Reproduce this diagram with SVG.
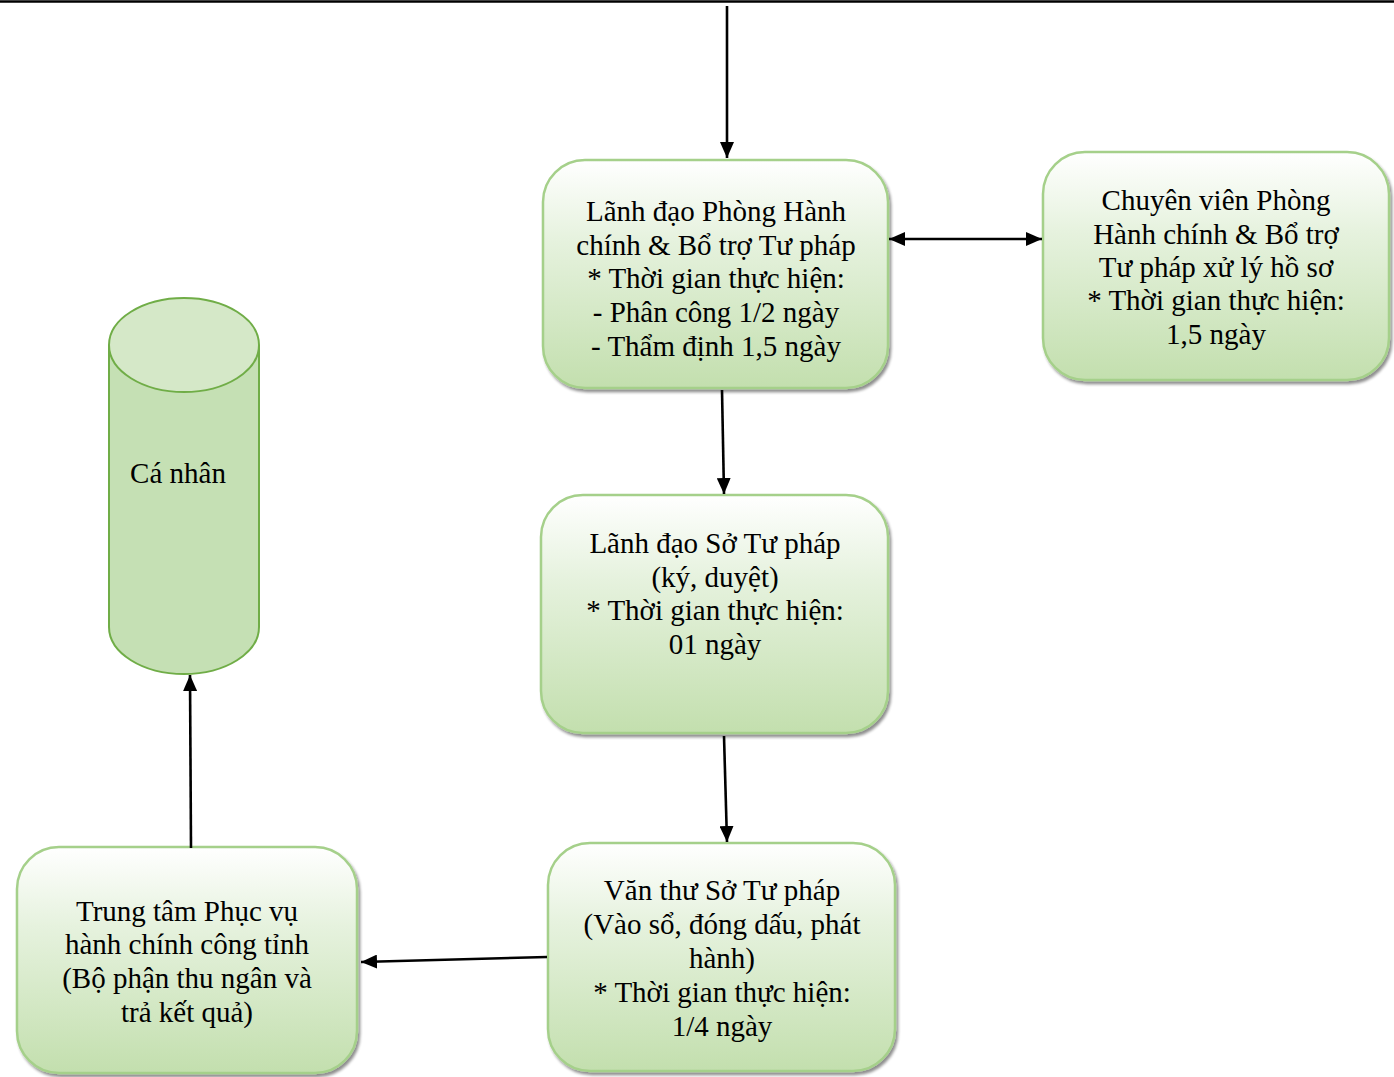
<svg xmlns="http://www.w3.org/2000/svg" width="1394" height="1077" viewBox="0 0 1394 1077">
<defs>
<linearGradient id="g" x1="0" y1="0" x2="0" y2="1">
<stop offset="0" stop-color="#ffffff"/>
<stop offset="0.35" stop-color="#e6f2de"/>
<stop offset="1" stop-color="#c3dfae"/>
</linearGradient>
<marker id="ah" viewBox="0 0 16 14" refX="16" refY="7" markerWidth="16" markerHeight="14" markerUnits="userSpaceOnUse" orient="auto-start-reverse">
<path d="M0,0 L16,7 L0,14 z" fill="#000"/>
</marker>
<filter id="sh" x="-10%" y="-10%" width="130%" height="130%">
<feGaussianBlur in="SourceAlpha" stdDeviation="1.5"/>
<feOffset dx="2" dy="3" result="b"/>
<feComponentTransfer><feFuncA type="linear" slope="0.45"/></feComponentTransfer>
<feMerge><feMergeNode/><feMergeNode in="SourceGraphic"/></feMerge>
</filter>
</defs>
<style>
.box{fill:url(#g);stroke:#a5d08a;stroke-width:2.5;filter:url(#sh)}
.t{font-family:'Liberation Serif','Times New Roman','DejaVu Serif',serif;font-size:29px;fill:#000;text-anchor:middle}
.c{stroke:#000;stroke-width:2.6;fill:none;marker-end:url(#ah)}
</style>
<rect width="1394" height="1077" fill="#fff"/>
<line x1="0" y1="1.5" x2="1394" y2="1.5" stroke="#000" stroke-width="2.5"/>

<g id="n1">
<rect class="box" x="543" y="160" width="345" height="228" rx="42"/>
<text class="t" x="716" y="221">Lãnh đạo Phòng Hành</text>
<text class="t" x="716" y="255">chính &amp; Bổ trợ Tư pháp</text>
<text class="t" x="716" y="288">* Thời gian thực hiện:</text>
<text class="t" x="716" y="322">- Phân công 1/2 ngày</text>
<text class="t" x="716" y="356">- Thẩm định 1,5 ngày</text>
</g>
<g id="n2">
<rect class="box" x="1043" y="152" width="346" height="228" rx="42"/>
<text class="t" x="1216" y="210">Chuyên viên Phòng</text>
<text class="t" x="1216" y="244">Hành chính &amp; Bổ trợ</text>
<text class="t" x="1216" y="277">Tư pháp xử lý hồ sơ</text>
<text class="t" x="1216" y="310">* Thời gian thực hiện:</text>
<text class="t" x="1216" y="344">1,5 ngày</text>
</g>
<g id="n3">
<rect class="box" x="541" y="495" width="347" height="238" rx="42"/>
<text class="t" x="715" y="553">Lãnh đạo Sở Tư pháp</text>
<text class="t" x="715" y="587">(ký, duyệt)</text>
<text class="t" x="715" y="620">* Thời gian thực hiện:</text>
<text class="t" x="715" y="654">01 ngày</text>
</g>
<g id="n4">
<rect class="box" x="548" y="843" width="347" height="228" rx="42"/>
<text class="t" x="722" y="900">Văn thư Sở Tư pháp</text>
<text class="t" x="722" y="934">(Vào sổ, đóng dấu, phát</text>
<text class="t" x="722" y="968">hành)</text>
<text class="t" x="722" y="1002">* Thời gian thực hiện:</text>
<text class="t" x="722" y="1036">1/4 ngày</text>
</g>
<g id="n5">
<rect class="box" x="17" y="847" width="340" height="226" rx="42"/>
<text class="t" x="187" y="921">Trung tâm Phục vụ</text>
<text class="t" x="187" y="954">hành chính công tỉnh</text>
<text class="t" x="187" y="988">(Bộ phận thu ngân và</text>
<text class="t" x="187" y="1022">trả kết quả)</text>
</g>
<g id="n6">
<path d="M109,345 L109,627 A75,47 0 0 0 259,627 L259,345" fill="#c5e0b4" stroke="#70ad47" stroke-width="2"/>
<ellipse cx="184" cy="345" rx="75" ry="47" fill="#d5e8c8" stroke="#70ad47" stroke-width="2"/>
<text class="t" x="178" y="483">Cá nhân</text>
</g>

<g id="connectors">
<line class="c" x1="727" y1="6" x2="727" y2="158"/>
<line class="c" x1="889" y1="239" x2="1042" y2="239" marker-start="url(#ah)"/>
<line class="c" x1="722" y1="390" x2="724" y2="494"/>
<line class="c" x1="724" y1="736" x2="727" y2="842"/>
<line class="c" x1="547" y1="957" x2="361" y2="962"/>
<line class="c" x1="191" y1="848" x2="190" y2="675"/>
</g>
</svg>
